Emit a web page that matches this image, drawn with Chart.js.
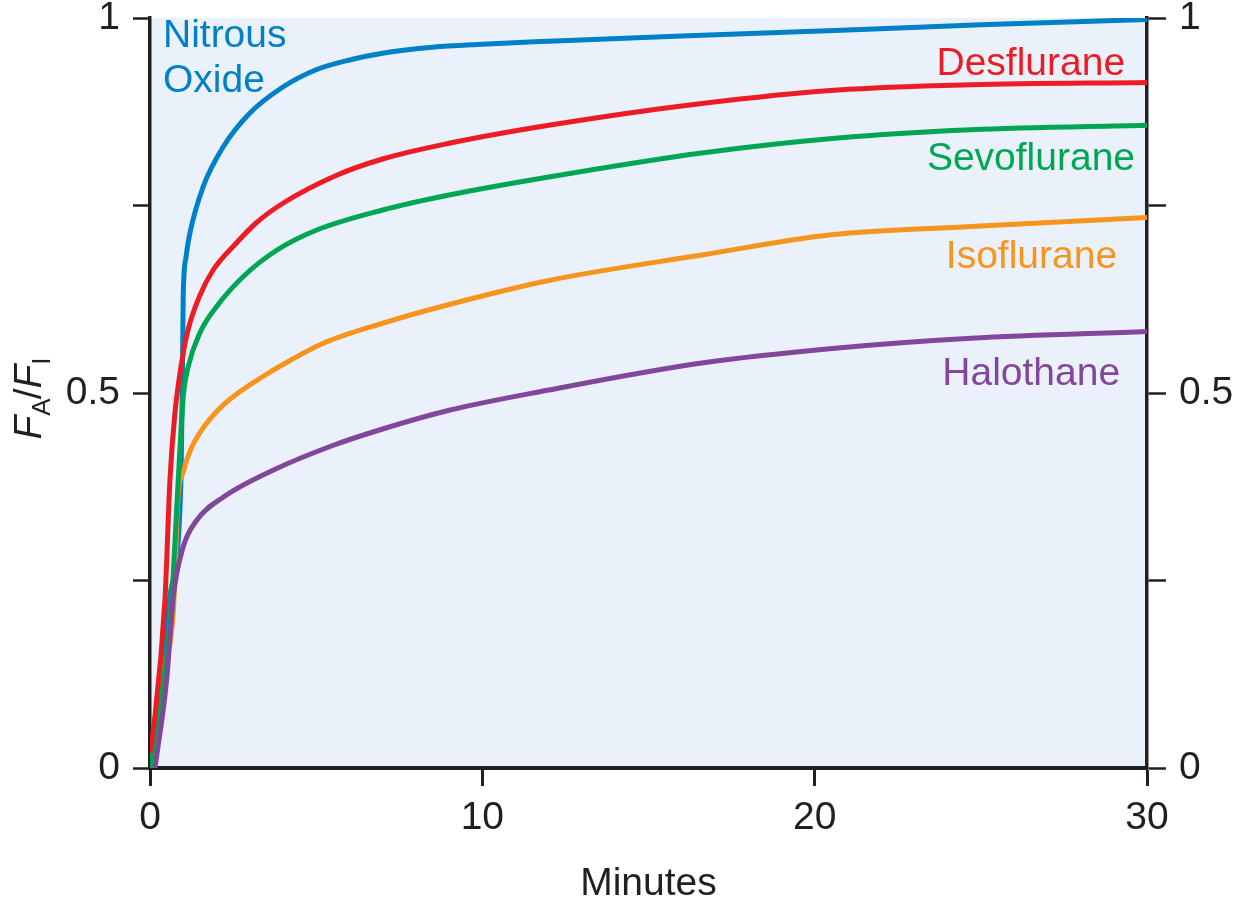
<!DOCTYPE html>
<html>
<head>
<meta charset="utf-8">
<script src="https://cdn.jsdelivr.net/npm/chart.js@4.4.1/dist/chart.umd.min.js"></script>
<style>
  html, body { margin: 0; padding: 0; background: #ffffff; }
  canvas { display: block; }
</style>
</head>
<body>
<canvas id="uptakeChart" width="1242" height="921"></canvas>
<script>
// values (minutes, FA/FI)
const nitrousX = [0, 0.3, 0.6, 0.93, 0.97, 1.0, 1.08, 1.2, 1.6, 2.2, 3, 4, 5, 6, 7, 8.5, 10, 12, 16, 21, 25, 30];
const nitrousY = [0, 0.1, 0.23, 0.38, 0.5, 0.63, 0.68, 0.713, 0.775, 0.828, 0.873, 0.908, 0.931, 0.944, 0.953, 0.961, 0.965, 0.969, 0.976, 0.984, 0.991, 0.998];

const desX = [0, 0.1, 0.45, 0.6, 0.75, 0.95, 1.15, 1.5, 1.9, 2.6, 3.2, 4.0, 5.6, 7, 9, 12, 16.6, 20.7, 24.7, 30];
const desY = [0.02, 0.05, 0.224, 0.384, 0.473, 0.54, 0.585, 0.63, 0.664, 0.70, 0.727, 0.753, 0.79, 0.812, 0.833, 0.857, 0.886, 0.904, 0.911, 0.914];

const sevoX = [0, 0.3, 0.65, 0.85, 1.0, 1.15, 1.5, 2.0, 2.8, 3.8, 5, 7, 9, 12, 16.6, 20.7, 24.7, 30];
const sevoY = [0, 0.08, 0.224, 0.384, 0.495, 0.535, 0.58, 0.615, 0.655, 0.69, 0.717, 0.744, 0.764, 0.788, 0.82, 0.84, 0.851, 0.857];

const isoX = [0.05, 0.3, 0.7, 0.84, 1.0, 1.2, 1.5, 2.0, 2.5, 3.4, 4.0, 5.2, 7, 9, 12, 16.6, 20.5, 24.7, 30];
const isoY = [0, 0.117, 0.207, 0.36, 0.395, 0.422, 0.447, 0.475, 0.495, 0.522, 0.538, 0.566, 0.593, 0.618, 0.65, 0.684, 0.711, 0.722, 0.734];

const haloX = [0.15, 0.5, 0.7, 1.0, 1.4, 2.2, 3.7, 5.5, 7, 9, 12, 16.6, 20.7, 24.7, 30];
const haloY = [0, 0.117, 0.228, 0.295, 0.33, 0.361, 0.397, 0.43, 0.452, 0.477, 0.504, 0.54, 0.56, 0.573, 0.582];

const xTicks = [0, 10, 20, 30];
const yTickLabels = { 0: '0', 0.5: '0.5', 1: '1' };

const FONT = '"Liberation Sans", Arial, Helvetica, sans-serif';
const INK = '#231f20';

// curve name labels, anchored in data units
const curveLabels = [
    { text: 'Nitrous', x: 0.39, y: 0.962, align: 'left', color: '#0080c6' },
    { text: 'Oxide', x: 0.39, y: 0.902, align: 'left', color: '#0080c6' },
    { text: 'Desflurane', x: 29.34, y: 0.924, align: 'right', color: '#ed1c24' },
    { text: 'Sevoflurane', x: 29.64, y: 0.797, align: 'right', color: '#00a651' },
    { text: 'Isoflurane', x: 29.1, y: 0.667, align: 'right', color: '#f7941d' },
    { text: 'Halothane', x: 29.19, y: 0.511, align: 'right', color: '#80479b' }
];

function toPoints(xs, ys) {
    return xs.map((x, i) => ({ x: x, y: ys[i] }));
}

function lineSet(label, xs, ys, color) {
    return {
        label: label,
        data: toPoints(xs, ys),
        borderColor: color,
        borderWidth: 5,
        pointRadius: 0,
        fill: false,
        cubicInterpolationMode: 'monotone'
    };
}

const plotBackground = {
    id: 'plotBackground',
    beforeDraw(chart) {
        const { ctx, chartArea } = chart;
        ctx.save();
        ctx.fillStyle = '#ffffff';
        ctx.fillRect(0, 0, chart.width, chart.height);
        ctx.fillStyle = '#eaf1fa';
        ctx.fillRect(chartArea.left, chartArea.top, chartArea.right - chartArea.left, chartArea.bottom - chartArea.top);
        ctx.restore();
    }
};

const curveNames = {
    id: 'curveNames',
    afterDatasetsDraw(chart) {
        const { ctx, scales } = chart;
        ctx.save();
        ctx.font = '39px ' + FONT;
        ctx.textBaseline = 'alphabetic';
        curveLabels.forEach(l => {
            ctx.fillStyle = l.color;
            ctx.textAlign = l.align;
            ctx.fillText(l.text, scales.x.getPixelForValue(l.x), scales.y.getPixelForValue(l.y));
        });
        ctx.restore();
    }
};

// FA/FI y-axis title with subscripts
const yTitle = {
    id: 'yTitle',
    afterDraw(chart) {
        const { ctx, chartArea } = chart;
        const big = 'italic 39px ' + FONT;
        const small = '26px ' + FONT;
        const plain = '39px ' + FONT;
        const parts = [
            { t: 'F', f: big, dy: 0 },
            { t: 'A', f: small, dy: 9 },
            { t: '/', f: plain, dy: 0 },
            { t: 'F', f: big, dy: 0 },
            { t: 'I', f: small, dy: 9 }
        ];
        ctx.save();
        let total = 0;
        parts.forEach(p => { ctx.font = p.f; p.w = ctx.measureText(p.t).width; total += p.w; });
        const cy = (chartArea.top + chartArea.bottom) / 2 + 5;
        ctx.translate(41, cy);
        ctx.rotate(-Math.PI / 2);
        ctx.fillStyle = INK;
        ctx.textAlign = 'left';
        ctx.textBaseline = 'alphabetic';
        let x = -total / 2;
        parts.forEach(p => {
            ctx.font = p.f;
            ctx.fillText(p.t, x, p.dy);
            x += p.w - (p.t === 'A' ? 1 : 0);
        });
        ctx.restore();
    }
};

const yTickCallback = v => (yTickLabels[v] !== undefined ? yTickLabels[v] : '');

new Chart(document.getElementById('uptakeChart'), {
    type: 'line',
    data: {
        datasets: [
            lineSet('Halothane', haloX, haloY, '#80479b'),
            lineSet('Desflurane', desX, desY, '#ed1c24'),
            lineSet('Sevoflurane', sevoX, sevoY, '#00a651'),
            lineSet('Isoflurane', isoX, isoY, '#f7941d'),
            lineSet('Nitrous Oxide', nitrousX, nitrousY, '#0080c6')
        ]
    },
    options: {
        responsive: false,
        animation: false,
        devicePixelRatio: 1,
        layout: { padding: { top: 18, left: 0, right: 0, bottom: 0 } },
        plugins: {
            legend: { display: false },
            tooltip: { enabled: false }
        },
        scales: {
            x: {
                type: 'linear',
                min: 0,
                max: 30,
                afterBuildTicks: s => { s.ticks = xTicks.map(v => ({ value: v })); },
                afterFit: s => { s.height = 153; },
                ticks: { color: INK, font: { family: FONT, size: 39 }, padding: 9, maxRotation: 0 },
                grid: { drawOnChartArea: false, drawTicks: true, tickLength: 18, tickColor: INK, tickWidth: 3, color: INK },
                border: { display: true, color: INK, width: 4 },
                title: { display: true, text: 'Minutes', color: INK, font: { family: FONT, size: 39 }, padding: { top: 0, bottom: 13 } }
            },
            y: {
                type: 'linear',
                position: 'left',
                min: 0,
                max: 1,
                afterFit: s => { s.width = 150; },
                ticks: { stepSize: 0.25, callback: yTickCallback, color: INK, font: { family: FONT, size: 39, lineHeight: 0.25 }, padding: 13 },
                grid: { drawOnChartArea: false, drawTicks: true, tickLength: 17, tickColor: INK, tickWidth: 2.5, color: INK },
                border: { display: true, color: INK, width: 3.5 }
            },
            y2: {
                type: 'linear',
                position: 'right',
                min: 0,
                max: 1,
                afterFit: s => { s.width = 95; },
                ticks: { stepSize: 0.25, callback: yTickCallback, color: INK, font: { family: FONT, size: 39, lineHeight: 0.25 }, padding: 13 },
                grid: { drawOnChartArea: false, drawTicks: true, tickLength: 19, tickColor: INK, tickWidth: 2.5, color: INK },
                border: { display: true, color: INK, width: 3.5 }
            }
        }
    },
    plugins: [plotBackground, curveNames, yTitle]
});
</script>
</body>
</html>
